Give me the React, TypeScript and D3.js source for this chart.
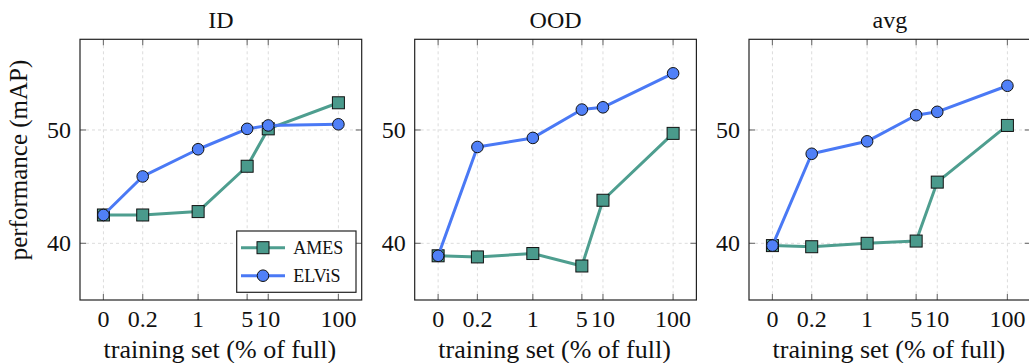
import React from "react";
import * as d3 from "d3";

const categories = ["0", "0.2", "1", "5", "10", "100"];
// horizontal placement of each category on the (log-like) axis
const xPositions = [-1.35, -0.79, 0, Math.log10(5), 1, 2];
const yTicks = [40, 50];
const panelTitles = ["ID", "OOD", "avg"];
const seriesNames = ["AMES", "ELViS"];
const amesID = [42.5, 42.5, 42.8, 46.8, 50.1, 52.4];
const elvisID = [42.5, 45.9, 48.3, 50.1, 50.4, 50.5];
const amesOOD = [38.9, 38.8, 39.1, 38.0, 43.8, 49.7];
const elvisOOD = [38.9, 48.5, 49.3, 51.8, 52.0, 55.0];
const amesAvg = [39.8, 39.7, 40.0, 40.2, 45.4, 50.4];
const elvisAvg = [39.8, 47.9, 49.0, 51.3, 51.6, 53.9];

const panelData = [
  [amesID, elvisID],
  [amesOOD, elvisOOD],
  [amesAvg, elvisAvg],
];

const COLORS = ["#4e9e8f", "#4a79f5"];
const FILLS = ["#4a9a8c", "#5080f7"];
const FONT = "Liberation Serif";

const W = 1029;
const H = 363;
const panelLefts = [80, 414.7, 749];
const panelW = 281.7;
const top = 39.3;
const bottom = 300;

function Panel({ idx }: { idx: number }) {
  const left = panelLefts[idx];
  const right = left + panelW;
  const x = d3.scaleLinear().domain([-1.684, 2.332]).range([left, right]);
  const y = d3.scaleLinear().domain([35, 58]).range([bottom, top]);
  const line = d3
    .line<number>()
    .x((_, i) => x(xPositions[i]))
    .y((d) => y(d));
  const data = panelData[idx];
  const tickLen = 6;
  const ts = { fontFamily: FONT };
  return (
    <g>
      {xPositions.map((p, i) => (
        <line key={"gx" + i} x1={x(p)} x2={x(p)} y1={top} y2={bottom} stroke="#dcdcdc" strokeWidth={1} strokeDasharray="3,3" />
      ))}
      {yTicks.map((t) => (
        <line key={"gy" + t} x1={left} x2={right} y1={y(t)} y2={y(t)} stroke="#dcdcdc" strokeWidth={1} strokeDasharray="3,3" />
      ))}
      {xPositions.map((p, i) => (
        <g key={"tx" + i}>
          <line x1={x(p)} x2={x(p)} y1={bottom} y2={bottom - tickLen} stroke="#777" strokeWidth={1.2} />
          <line x1={x(p)} x2={x(p)} y1={top} y2={top + tickLen} stroke="#777" strokeWidth={1.2} />
          <text x={x(p)} y={327} textAnchor="middle" style={ts} fontSize={24} fill="#111">
            {categories[i]}
          </text>
        </g>
      ))}
      {yTicks.map((t) => (
        <g key={"ty" + t}>
          <line x1={left} x2={left + tickLen} y1={y(t)} y2={y(t)} stroke="#777" strokeWidth={1.2} />
          <line x1={right} x2={right - tickLen} y1={y(t)} y2={y(t)} stroke="#777" strokeWidth={1.2} />
          <text x={left - 9} y={y(t)} dy="0.33em" textAnchor="end" style={ts} fontSize={24} fill="#111">
            {t}
          </text>
        </g>
      ))}
      {data.map((vals, si) => (
        <g key={"s" + si}>
          <path d={line(vals) || ""} fill="none" stroke={COLORS[si]} strokeWidth={3} strokeLinejoin="round" />
          {vals.map((v, i) =>
            si === 0 ? (
              <rect key={i} x={x(xPositions[i]) - 6} y={y(v) - 6} width={12} height={12} fill={FILLS[si]} stroke="#111" strokeWidth={1} />
            ) : (
              <circle key={i} cx={x(xPositions[i])} cy={y(v)} r={5.8} fill={FILLS[si]} stroke="#111" strokeWidth={1} />
            )
          )}
        </g>
      ))}
      <rect x={left} y={top} width={panelW} height={bottom - top} fill="none" stroke="#222" strokeWidth={1.2} />
      <text x={(left + right) / 2} y={28} textAnchor="middle" style={ts} fontSize={24} fill="#111">
        {panelTitles[idx]}
      </text>
      <text x={(left + right) / 2 - 1} y={358} textAnchor="middle" style={ts} fontSize={26} fill="#111">
        training set (% of full)
      </text>
      {idx === 0 && (
        <g>
          <rect x={236.7} y={231} width={119.3} height={61.3} fill="#fff" stroke="#222" strokeWidth={1.2} />
          {seriesNames.map((n, si) => {
            const cy = 247.7 + si * 28;
            return (
              <g key={n}>
                <line x1={241} x2={285} y1={cy} y2={cy} stroke={COLORS[si]} strokeWidth={3} />
                {si === 0 ? (
                  <rect x={263 - 6} y={cy - 6} width={12} height={12} fill={FILLS[si]} stroke="#111" strokeWidth={1} />
                ) : (
                  <circle cx={263} cy={cy} r={5.8} fill={FILLS[si]} stroke="#111" strokeWidth={1} />
                )}
                <text x={293.3} y={cy} dy="0.35em" style={ts} fontSize={18} fill="#111">
                  {n}
                </text>
              </g>
            );
          })}
        </g>
      )}
    </g>
  );
}

export default function App() {
  return (
    <svg width={W} height={H} style={{ position: "absolute", left: 0, top: 0, fontFamily: FONT }}>
      <rect width={W} height={H} fill="#fff" />
      <text transform="translate(27,160) rotate(-90)" textAnchor="middle" style={{ fontFamily: FONT }} fontSize={25} fill="#111">
        performance (mAP)
      </text>
      {[0, 1, 2].map((i) => (
        <Panel key={i} idx={i} />
      ))}
    </svg>
  );
}
